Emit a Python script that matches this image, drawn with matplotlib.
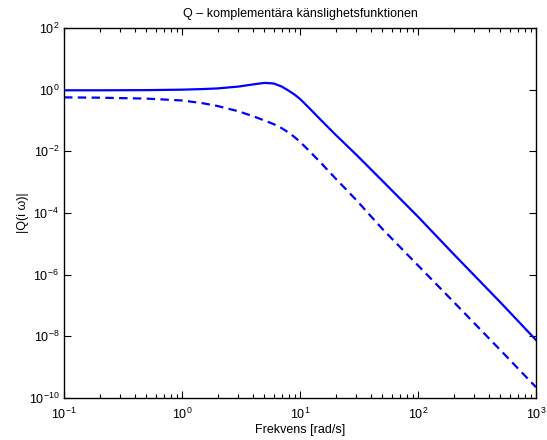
import matplotlib
matplotlib.use("Agg")
import matplotlib.pyplot as plt
from matplotlib.ticker import FixedLocator, NullLocator, NullFormatter, LogFormatterSciNotation

plt.rcParams['font.family'] = ['Liberation Sans', 'DejaVu Sans']
plt.rcParams['mathtext.fontset'] = 'custom'
plt.rcParams['mathtext.rm'] = 'Liberation Sans'
plt.rcParams['mathtext.it'] = 'Liberation Sans:italic'
plt.rcParams['mathtext.default'] = 'regular'

# Frequencies (rad/s)
freq = [0.1, 0.2, 0.5, 1, 1.5, 2, 3, 4, 5, 6, 7, 8, 9, 10, 12, 15, 20, 30, 50, 100, 200, 500, 1000]
# log10 |Q| solid
solid_log = [-0.02, -0.02, -0.015, 0.0, 0.02, 0.04, 0.10, 0.17, 0.22, 0.20, 0.10, -0.03, -0.16, -0.30,
             -0.60, -0.98, -1.46, -2.11, -2.96, -4.12, -5.33, -6.90, -8.12]
# log10 |Q| dashed
dashed_log = [-0.25, -0.26, -0.29, -0.35, -0.44, -0.53, -0.70, -0.86, -1.00, -1.12, -1.25, -1.39, -1.54, -1.69,
              -1.99, -2.37, -2.88, -3.58, -4.52, -5.70, -6.88, -8.45, -9.65]

x_major = [0.1, 1, 10, 100, 1000]
y_major = [1e-10, 1e-8, 1e-6, 1e-4, 1e-2, 1e0, 1e2]

title = "Q – komplementära känslighetsfunktionen"
xlabel = "Frekvens [rad/s]"
ylabel = "|Q(i ω)|"

solid = [10 ** v for v in solid_log]
dashed = [10 ** v for v in dashed_log]
x_minor = [m * d for d in x_major[:-1] for m in range(2, 10)]

fig = plt.figure(figsize=(5.47, 4.40), dpi=100)
ax = fig.add_axes([64 / 547, 1 - 398 / 440, 472 / 547, 370 / 440])

ax.loglog(freq, solid, color=(0, 0, 1), lw=1.6, solid_joinstyle='round')
ax.loglog(freq, dashed, color=(0, 0, 1), lw=1.6, ls=(0, (3.8, 2.4)))

ax.set_xlim(0.1, 1000)
ax.set_ylim(1e-10, 1e2)

ax.xaxis.set_major_locator(FixedLocator(x_major))
ax.xaxis.set_minor_locator(FixedLocator(x_minor))
ax.xaxis.set_minor_formatter(NullFormatter())
ax.yaxis.set_major_locator(FixedLocator(y_major))
ax.yaxis.set_minor_locator(NullLocator())
ax.yaxis.set_minor_formatter(NullFormatter())
ax.xaxis.set_major_formatter(LogFormatterSciNotation())
ax.yaxis.set_major_formatter(LogFormatterSciNotation())

ax.tick_params(which='both', direction='in', top=True, right=True, labelsize=9, width=0.8)
ax.tick_params(which='major', length=5)
ax.tick_params(which='minor', length=3)
ax.tick_params(axis='x', pad=6)
for s in ax.spines.values():
    s.set_linewidth(1.0)

ax.set_title(title, fontsize=9, pad=8)
ax.set_xlabel(xlabel, fontsize=9, labelpad=2)
ax.set_ylabel(ylabel, fontsize=9, labelpad=0)

fig.savefig("out.png", dpi=100)
